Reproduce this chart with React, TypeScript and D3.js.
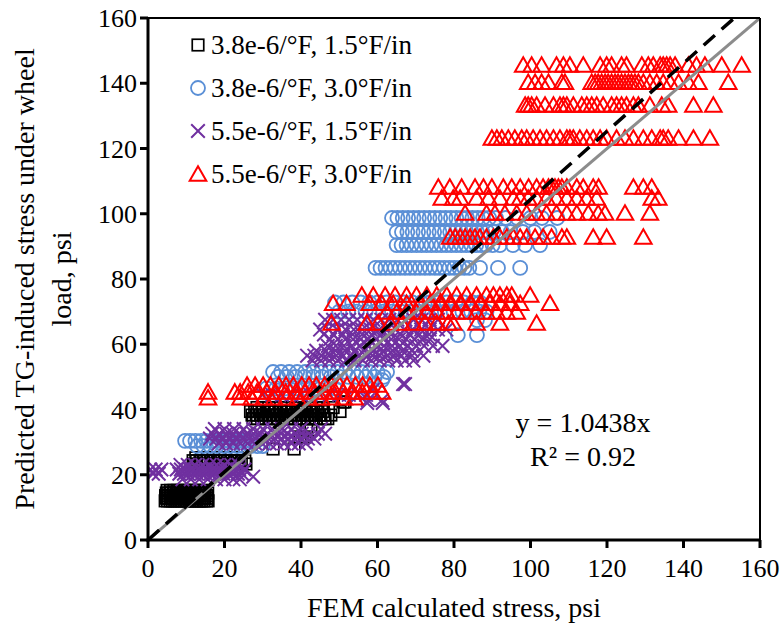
import React from "react";
import * as d3 from "d3";

// ---------- DATA ----------
const xTicks = [0, 20, 40, 60, 80, 100, 120, 140, 160];
const yTicks = [0, 20, 40, 60, 80, 100, 120, 140, 160];

const seriesNames = [
  "3.8e-6/°F, 1.5°F/in",
  "3.8e-6/°F, 3.0°F/in",
  "5.5e-6/°F, 1.5°F/in",
  "5.5e-6/°F, 3.0°F/in",
];

// rows: [predicted y, list of FEM x values]
const squareRows: [number, number[]][] = [
  [12.0, [4.5, 5.1, 5.8, 6.4, 7.0, 7.7, 8.3, 8.9, 9.6, 10.2, 10.8, 11.5, 12.1, 12.7, 13.4, 14.0, 14.6, 15.3, 15.7]],
  [12.8, [4.7, 5.3, 6.0, 6.6, 7.2, 7.9, 8.5, 9.1, 9.8, 10.4, 11.0, 11.7, 12.3, 12.9, 13.6, 14.2, 14.8, 15.5]],
  [13.6, [4.6, 5.2, 5.9, 6.5, 7.1, 7.8, 8.4, 9.0, 9.7, 10.3, 10.9, 11.6, 12.2, 12.8, 13.5, 14.1, 14.7, 15.4]],
  [14.4, [4.8, 5.4, 6.1, 6.7, 7.3, 8.0, 8.6, 9.2, 9.9, 10.5, 11.1, 11.8, 12.4, 13.0, 13.7, 14.3, 14.9, 15.6]],
  [15.2, [5.0, 5.9, 6.8, 7.7, 8.6, 9.5, 10.4, 11.3, 12.2, 13.1, 14.0, 14.9]],
  [23.3, [12.0, 13.4, 14.9, 16.5, 18.0, 19.5, 21.0, 22.3, 23.8, 25.6]],
  [24.3, [11.8, 12.7, 13.6, 14.5, 15.4, 16.3, 17.2, 18.1, 19.0, 19.9, 20.8, 21.7, 22.6, 23.5, 24.4, 25.3]],
  [25.2, [12.5, 14.0, 15.6, 17.1, 18.7, 20.2, 21.8, 23.3]],
  [27.9, [32.7, 38.2]],
  [31.6, [39.7, 41.0]],
  [33.7, [41.5, 42.6]],
  [37.2, [27.5, 28.6, 29.7, 30.8, 31.9, 33.0, 34.1, 35.2, 36.3, 37.4, 38.5, 39.6, 40.7, 41.8, 42.9, 44.0, 45.2, 46.3, 47.0]],
  [38.3, [27.2, 28.3, 29.4, 30.5, 31.6, 32.7, 33.8, 34.9, 36.0, 37.1, 38.2, 39.3, 40.4, 41.5, 42.6, 43.7, 44.8, 46.0, 47.8]],
  [39.4, [26.8, 27.9, 29.0, 30.1, 31.2, 32.3, 33.4, 34.5, 35.6, 36.7, 37.8, 38.9, 40.0, 41.1, 42.2, 43.3, 44.4, 45.8, 50.2]],
  [40.6, [28.5, 30.0, 31.6, 33.1, 34.7, 36.2, 37.8, 39.3, 40.9, 42.4, 44.0, 45.8, 48.4]],
  [42.3, [51.0, 51.5]],
];

const circleRows: [number, number[]][] = [
  [28.8, [12.8, 14.5, 16.3, 18.0, 19.8, 21.5, 23.3, 25.0, 26.8, 28.6, 30.0]],
  [30.4, [9.7, 11.0, 12.4, 13.9, 15.3, 16.8, 18.2, 19.7, 21.1, 22.6, 24.0, 25.5, 27.0, 28.4]],
  [46.5, [31.0, 33.5, 36.0, 38.6, 41.1, 43.7, 46.2, 48.8]],
  [49.0, [61.2]],
  [50.0, [34.0, 36.3, 38.6, 40.9, 43.2, 45.5, 47.8, 50.1, 52.4, 54.7, 57.0, 59.3, 61.6]],
  [51.5, [32.7, 34.8, 36.9, 39.0, 41.1, 43.2, 45.3, 47.4, 49.5, 51.6, 53.7, 55.8, 57.9, 60.0, 62.5]],
  [62.8, [81.0, 86.0]],
  [67.4, [86.0, 88.1]],
  [70.0, [50.0, 52.3, 54.6, 56.9, 59.2, 61.5, 63.8, 66.1, 68.4, 70.7, 73.0, 75.3, 77.6, 79.9, 82.2, 84.5, 86.6, 88.5]],
  [72.8, [48.9, 51.1, 53.4, 55.6, 57.9, 60.1, 62.4, 64.6, 66.9, 69.1, 71.4, 73.6, 75.9, 78.1, 80.4, 82.6, 84.8, 86.8]],
  [83.4, [59.5, 60.8, 62.1, 63.4, 64.6, 65.9, 67.2, 68.5, 69.8, 71.1, 72.4, 73.7, 75.0, 76.2, 77.5, 78.8, 80.1, 81.4, 82.7, 84.0, 86.8, 91.5, 97.3]],
  [90.4, [65.0, 66.3, 67.6, 68.9, 70.2, 71.5, 72.8, 74.1, 75.4, 76.7, 78.0, 79.3, 80.6, 81.9, 83.2, 84.5, 85.8, 87.1, 88.4, 90.1, 92.0, 95.4, 98.6, 102.5]],
  [94.4, [65.0, 66.4, 67.8, 69.2, 70.6, 72.0, 73.4, 74.8, 76.2, 77.6, 79.0, 80.4, 81.8, 83.2, 84.6, 86.0, 87.4, 88.8, 90.4, 92.6, 94.8, 98.0, 101.0, 105.0]],
  [98.7, [63.8, 65.2, 66.6, 68.0, 69.4, 70.8, 72.2, 73.6, 75.0, 76.4, 77.8, 79.2, 80.6, 82.0, 83.4, 84.8, 86.2, 87.6, 89.2, 91.0, 93.5, 96.5, 100.0, 103.0, 107.0]],
];

const crossRows: [number, number[]][] = [
  [18.6, [9.0, 11.2, 13.4, 15.6, 17.8, 20.0, 22.3, 24.0]],
  [19.4, [27.5]],
  [20.3, [1.3, 2.8, 8.2, 9.4, 10.5, 11.7, 12.8, 14.0, 15.1, 16.3, 17.4, 18.6, 19.7, 21.0, 22.1, 23.5, 24.6]],
  [21.6, [0.6, 2.0, 3.5, 7.5, 8.6, 9.8, 11.0, 12.1, 13.3, 14.4, 15.6, 16.7, 17.9, 19.0, 20.2, 21.4, 22.5, 23.8, 25.2]],
  [23.0, [8.5, 10.4, 12.3, 14.2, 16.1, 18.0, 19.9, 21.8, 23.7]],
  [29.6, [18.5, 20.4, 22.3, 24.2, 26.1, 28.0, 29.9, 31.8, 33.7, 35.6, 37.5, 39.4, 41.3]],
  [31.1, [16.2, 17.9, 19.6, 21.3, 23.0, 24.7, 26.4, 28.1, 29.8, 31.5, 33.2, 34.9, 36.6, 38.3, 40.0, 41.8, 43.5]],
  [32.6, [16.8, 18.6, 20.4, 22.2, 24.0, 25.8, 27.6, 29.4, 31.2, 33.0, 34.8, 36.6, 38.4, 40.2, 42.0, 44.4, 46.3]],
  [34.0, [17.5, 20.0, 22.5, 25.0, 27.5, 30.0, 32.5, 35.0, 37.5, 40.0, 45.2]],
  [42.0, [57.3, 61.4]],
  [42.9, [57.5, 61.2]],
  [44.5, [30.0, 32.5, 35.0, 37.5, 40.0, 42.5, 45.0, 47.5, 50.0, 52.5, 55.0, 57.0]],
  [46.0, [58.8]],
  [47.8, [66.7, 67.2]],
  [55.0, [43.0, 45.2, 47.4, 49.6, 51.8, 54.0, 56.2, 58.4, 60.6, 62.8, 65.0, 67.2, 69.4]],
  [56.5, [41.6, 43.5, 45.4, 47.3, 49.2, 51.1, 53.0, 54.9, 56.8, 58.7, 60.6, 62.5, 64.4, 66.3, 69.0, 72.0]],
  [58.0, [44.0, 46.5, 49.0, 51.5, 54.0, 56.5, 59.0, 61.5, 64.0, 66.5, 69.0]],
  [59.5, [47.0, 49.1, 51.2, 53.3, 55.4, 57.5, 59.6, 61.7, 63.8, 65.9, 68.0, 70.1, 72.2, 74.5, 77.0]],
  [61.5, [47.6, 49.6, 51.6, 53.6, 55.6, 57.6, 59.6, 61.6, 63.6, 65.6, 67.6, 69.6, 71.6, 73.7]],
  [63.0, [46.0, 48.5, 51.0, 53.5, 56.0, 58.5, 61.0, 63.5, 66.0, 68.5, 71.0, 73.5]],
  [64.5, [45.0, 47.2, 49.4, 51.6, 53.8, 56.0, 58.2, 60.4, 62.6, 64.8, 67.0, 69.2, 71.4, 73.6, 75.8, 78.0]],
  [67.5, [46.3, 48.4, 50.5, 52.6, 54.7, 56.8, 58.9, 61.0, 63.1, 65.2, 67.3, 69.4, 71.5, 73.6, 75.8]],
];

const triangleRows: [number, number[]][] = [
  [43.6, [15.7, 24.2, 27.1, 30.3, 33.0, 36.2, 39.1, 42.0, 45.3, 48.1, 51.2, 54.0]],
  [45.4, [15.7, 22.7, 24.1, 26.2, 28.5, 31.1, 33.4, 36.0, 38.6, 41.0, 43.6, 46.1, 48.4, 51.0, 53.6, 56.0, 58.6, 61.2]],
  [47.5, [25.9, 28.0, 30.1, 32.0, 34.2, 36.1, 38.0, 40.2, 42.1, 44.0, 46.2, 48.0, 50.1, 52.0, 54.2, 56.1, 58.0, 60.1]],
  [66.5, [48.0, 57.2, 60.2, 63.3, 66.3, 69.4, 72.4, 75.5, 78.5, 79.8, 85.9, 92.0, 101.6]],
  [69.9, [62.4, 65.0, 67.6, 70.2, 72.9, 75.5, 78.1, 80.7, 83.3, 85.9, 88.5, 91.2, 93.8, 96.4]],
  [72.6, [48.4, 51.9, 58.0, 61.1, 64.1, 67.6, 71.1, 73.7, 76.3, 78.9, 81.6, 84.2, 86.8, 89.4, 92.0, 94.6, 97.3, 105.1]],
  [75.1, [55.9, 58.9, 62.0, 64.6, 67.6, 70.2, 72.9, 75.5, 78.1, 80.7, 83.3, 85.9, 88.5, 90.3, 92.0, 93.8, 95.1, 99.9]],
  [92.9, [79.0, 80.3, 81.6, 82.9, 84.2, 85.5, 86.8, 88.5, 90.3, 92.0, 93.8, 95.5, 97.3, 99.0, 101.2, 103.3, 105.5, 108.2, 109.5, 116.4, 119.9, 129.5]],
  [100.2, [82.9, 88.5, 90.7, 93.3, 96.4, 99.0, 101.6, 104.2, 106.8, 109.5, 112.1, 115.1, 117.7, 119.5, 124.7, 131.2]],
  [104.8, [76.8, 79.8, 81.6, 85.9, 89.0, 92.0, 95.5, 97.3, 99.4, 101.6, 104.2, 106.8, 109.5, 112.1, 114.7, 117.3, 131.7, 133.4]],
  [108.2, [75.9, 78.9, 82.0, 85.5, 87.7, 89.9, 92.9, 95.1, 97.3, 99.5, 101.6, 103.3, 104.7, 105.5, 106.4, 107.3, 108.2, 109.5, 112.1, 113.8, 116.4, 117.8, 126.9, 129.5, 131.7]],
  [123.2, [89.9, 91.2, 92.5, 94.2, 95.9, 97.7, 99.0, 100.7, 102.5, 104.2, 106.0, 107.7, 109.5, 110.3, 111.2, 112.9, 114.7, 116.4, 118.2, 119.9, 122.5, 124.7, 126.9, 129.5, 131.7, 133.9, 134.7, 136.0, 138.7, 142.6, 146.9]],
  [133.3, [98.6, 99.4, 100.3, 101.6, 103.8, 106.0, 107.7, 108.6, 109.5, 111.2, 113.4, 114.7, 116.0, 117.3, 119.0, 121.2, 122.5, 123.8, 125.1, 126.9, 128.2, 131.2, 134.3, 136.0, 142.6, 147.8]],
  [140.3, [99.4, 101.2, 102.9, 104.7, 108.2, 109.0, 116.0, 116.9, 117.7, 118.6, 119.5, 120.3, 121.2, 122.1, 122.9, 123.8, 124.7, 125.6, 126.4, 127.3, 128.2, 129.5, 131.2, 133.0, 134.7, 136.5, 138.7, 141.3, 143.9, 151.7]],
  [145.6, [98.1, 100.3, 102.9, 106.8, 108.6, 110.3, 113.8, 118.2, 119.9, 121.2, 123.8, 125.1, 129.1, 130.8, 132.1, 133.9, 134.7, 135.6, 136.5, 137.8, 141.3, 143.4, 145.6, 150.0, 155.2]],
];

const trendSlope = 1.0438;
const equationText = "y = 1.0438x";
const r2Text = "R² = 0.92";

// ---------- LAYOUT ----------
const W = 782;
const H = 634;
const M = { left: 148, right: 760, top: 18, bottom: 540 };
const FONT = "'Liberation Serif', 'Times New Roman', serif";
const FS = 26;
const FS_TITLE = 28;

const COLORS = {
  square: "#000000",
  circle: "#5A8FD6",
  cross: "#7030A0",
  triangle: "#FF0000",
};

function flatten(rows: [number, number[]][]) {
  const pts: { x: number; y: number }[] = [];
  rows.forEach(([y, xs]) => xs.forEach((x) => pts.push({ x, y })));
  return pts;
}

function Marker({ kind, cx, cy }: { kind: string; cx: number; cy: number }) {
  if (kind === "square") {
    const s = 11.5;
    return <rect x={cx - s / 2} y={cy - s / 2} width={s} height={s} fill="none" stroke={COLORS.square} strokeWidth={1.7} />;
  }
  if (kind === "circle") {
    return <circle cx={cx} cy={cy} r={7} fill="none" stroke={COLORS.circle} strokeWidth={1.8} />;
  }
  if (kind === "cross") {
    const h = 6.8;
    return (
      <path
        d={`M${cx - h},${cy - h}L${cx + h},${cy + h}M${cx - h},${cy + h}L${cx + h},${cy - h}`}
        stroke={COLORS.cross}
        strokeWidth={2}
        fill="none"
      />
    );
  }
  const w = 8.3, ht = 13.5;
  return (
    <path
      d={`M${cx},${cy - ht / 2 - 1}L${cx + w},${cy + ht / 2}L${cx - w},${cy + ht / 2}Z`}
      fill="none"
      stroke={COLORS.triangle}
      strokeWidth={2}
      strokeLinejoin="miter"
    />
  );
}

export default function App() {
  const x = d3.scaleLinear().domain([0, 160]).range([M.left, M.right]);
  const y = d3.scaleLinear().domain([0, 160]).range([M.bottom, M.top]);

  const series = [
    { kind: "square", pts: flatten(squareRows) },
    { kind: "circle", pts: flatten(circleRows) },
    { kind: "cross", pts: flatten(crossRows) },
    { kind: "triangle", pts: flatten(triangleRows) },
  ];

  const line = d3
    .line<[number, number]>()
    .x((d) => x(d[0]))
    .y((d) => y(d[1]));

  const xMaxTrend = 160 / trendSlope;
  const trendPts: [number, number][] = [
    [0, 0],
    [xMaxTrend, trendSlope * xMaxTrend],
  ];
  const idPts: [number, number][] = [
    [0, 0],
    [160, 160],
  ];

  const legendKinds = ["square", "circle", "cross", "triangle"];
  const legendY = [45, 88, 131, 174];

  return (
    <svg
      width={W}
      height={H}
      style={{ position: "absolute", left: 0, top: 0, background: "#fff" }}
      fontFamily={FONT}
    >
      <rect x={0} y={0} width={W} height={H} fill="#fff" />
      <defs>
        <clipPath id="plotClip">
          <rect x={M.left} y={M.top} width={M.right - M.left} height={M.bottom - M.top} />
        </clipPath>
      </defs>

      {/* markers */}
      <g clipPath="url(#plotClip)">
        {series.map((s) => (
          <g key={s.kind}>
            {s.pts.map((p, i) => (
              <Marker key={i} kind={s.kind} cx={x(p.x)} cy={y(p.y)} />
            ))}
          </g>
        ))}
        {/* y = x reference */}
        <path d={line(idPts) || ""} stroke="#8C8C8C" strokeWidth={3} fill="none" />
        {/* trend line */}
        <path d={line(trendPts) || ""} stroke="#000" strokeWidth={3.5} strokeDasharray="15,9" fill="none" />
      </g>

      {/* frame */}
      <line x1={M.left} x2={M.right} y1={M.top} y2={M.top} stroke="#000" strokeWidth={2} />
      <line x1={M.right} x2={M.right} y1={M.top} y2={M.bottom} stroke="#000" strokeWidth={2} />
      <line x1={M.left} x2={M.left} y1={M.top - 1} y2={M.bottom + 1.5} stroke="#000" strokeWidth={3} />
      <line x1={M.left - 1.5} x2={M.right + 1} y1={M.bottom} y2={M.bottom} stroke="#000" strokeWidth={3} />

      {/* x ticks */}
      {xTicks.map((t) => (
        <g key={"xt" + t}>
          <line x1={x(t)} x2={x(t)} y1={M.bottom} y2={M.bottom + 8} stroke="#000" strokeWidth={3} />
          <text x={x(t)} y={M.bottom + 37} textAnchor="middle" fontSize={FS} fill="#000">
            {t}
          </text>
        </g>
      ))}
      {/* y ticks */}
      {yTicks.map((t) => (
        <g key={"yt" + t}>
          <line x1={M.left - 8} x2={M.left} y1={y(t)} y2={y(t)} stroke="#000" strokeWidth={3} />
          <text x={M.left - 11} y={y(t) + 9} textAnchor="end" fontSize={FS} fill="#000">
            {t}
          </text>
        </g>
      ))}

      {/* axis titles */}
      <text x={(M.left + M.right) / 2} y={617} textAnchor="middle" fontSize={FS_TITLE} fill="#000">
        FEM calculated stress, psi
      </text>
      <g transform={`translate(34, ${(M.top + M.bottom) / 2}) rotate(-90)`}>
        <text x={0} y={0} textAnchor="middle" fontSize={FS_TITLE} fill="#000">
          Predicted TG-induced stress under wheel
        </text>
        <text x={0} y={37} textAnchor="middle" fontSize={FS_TITLE} fill="#000">
          load, psi
        </text>
      </g>

      {/* legend */}
      {legendKinds.map((k, i) => (
        <g key={"lg" + k}>
          <Marker kind={k} cx={198} cy={legendY[i]} />
          <text x={211} y={legendY[i] + 9} fontSize={27} fill="#000">
            {seriesNames[i]}
          </text>
        </g>
      ))}

      {/* equation */}
      <text x={583} y={432} textAnchor="middle" fontSize={28} fill="#000">
        {equationText}
      </text>
      <text x={583} y={466} textAnchor="middle" fontSize={28} fill="#000">
        {r2Text}
      </text>
    </svg>
  );
}
